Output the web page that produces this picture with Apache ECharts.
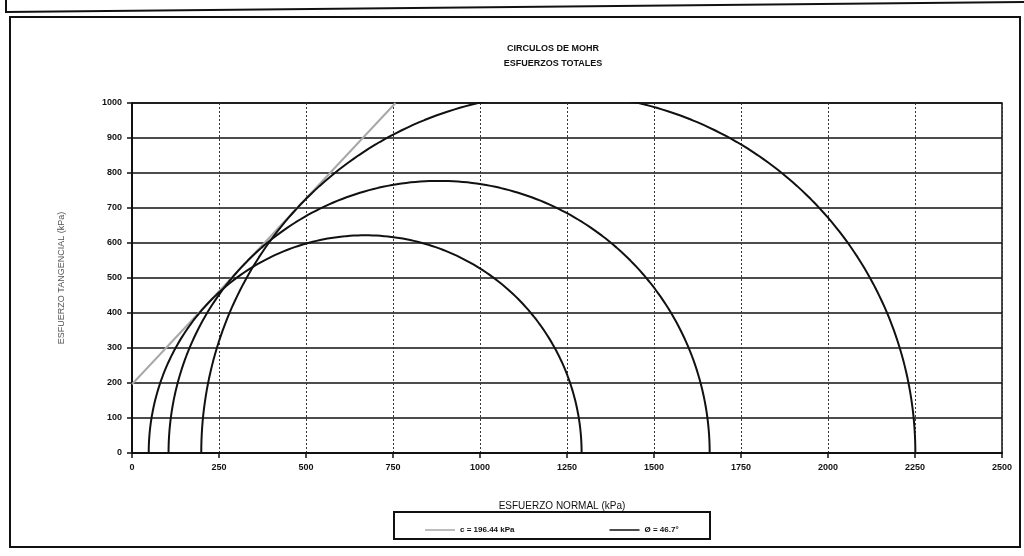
<!DOCTYPE html>
<html>
<head>
<meta charset="utf-8">
<script src="https://cdn.jsdelivr.net/npm/echarts@6/dist/echarts.min.js"></script>
<style>
  html, body { margin: 0; padding: 0; background: #fff; }
  #chart { width: 1024px; height: 556px; }
</style>
</head>
<body>
<div id="chart"></div>
<script>
// Mohr circles: minor and major principal stresses (kPa) of each test
const sigma3 = [48, 105, 199];
const sigma1 = [1292, 1660, 2251];

// Failure envelope parameters
const cohesion = 196.44;   // kPa
const phiDeg = 46.7;       // degrees

// Axis ticks
const xTicks = [0, 250, 500, 750, 1000, 1250, 1500, 1750, 2000, 2250, 2500];
const yTicks = [0, 100, 200, 300, 400, 500, 600, 700, 800, 900, 1000];

const envName = 'c = ' + cohesion + ' kPa';
const circName = '\u00D8 = ' + phiDeg + '\u00B0';

// Upper half of a Mohr circle from its principal stresses
function mohrCircle(s3, s1) {
  const c = (s1 + s3) / 2, r = (s1 - s3) / 2;
  const pts = [];
  const n = 180;
  for (let i = 0; i <= n; i++) {
    const t = Math.PI * i / n;
    pts.push([c + r * Math.cos(t), r * Math.sin(t)]);
  }
  return pts;
}

// Envelope tau = c + sigma * tan(phi), drawn until it leaves the plot
const tanPhi = Math.tan(phiDeg * Math.PI / 180);
const envX = (yTicks[yTicks.length - 1] - cohesion) / tanPhi;
const envelope = [[0, cohesion], [envX, cohesion + envX * tanPhi]];

const font = 'Liberation Sans, Arial, sans-serif';

const series = [{
  name: envName,
  type: 'line',
  data: envelope,
  showSymbol: false,
  lineStyle: { color: '#a8a8a8', width: 2 },
  itemStyle: { color: '#a8a8a8' },
  z: 3
}];
sigma3.forEach((s3, i) => {
  series.push({
    name: circName,
    type: 'line',
    data: mohrCircle(s3, sigma1[i]),
    showSymbol: false,
    smooth: false,
    lineStyle: { color: '#111', width: 2 },
    itemStyle: { color: '#111' },
    z: 4
  });
});

const plain = v => String(v);

const chart = echarts.init(document.getElementById('chart'));
chart.setOption({
  animation: false,
  backgroundColor: '#fff',
  title: {
    text: 'CIRCULOS DE MOHR\nESFUERZOS TOTALES',
    left: 548,
    top: 36,
    textAlign: 'center',
    textStyle: { fontFamily: font, fontSize: 9, fontWeight: 'bold', color: '#111', lineHeight: 15 }
  },
  grid: {
    left: 132, right: 22, top: 103, bottom: 103,
    show: true, borderColor: '#111', borderWidth: 1.5, backgroundColor: 'transparent'
  },
  legend: {
    data: [envName, circName],
    left: 420, top: 521,
    itemGap: 95,
    icon: 'rect',
    itemWidth: 30, itemHeight: 1.5,
    textStyle: { fontFamily: font, fontSize: 8, color: '#111', fontWeight: 'bold' }
  },
  xAxis: {
    type: 'value',
    min: xTicks[0], max: xTicks[xTicks.length - 1], interval: 250,
    name: 'ESFUERZO NORMAL (kPa)',
    nameLocation: 'middle', nameGap: 48,
    nameTextStyle: { fontFamily: font, fontSize: 10, color: '#111', padding: [0, 0, 0, -10] },
    axisLine: { show: true, lineStyle: { color: '#111', width: 2 } },
    axisTick: { show: true, length: 5, lineStyle: { color: '#111', width: 1.5 } },
    axisLabel: { fontFamily: font, fontSize: 9, color: '#111', margin: 10, fontWeight: 'bold', formatter: plain },
    splitLine: { show: true, lineStyle: { color: '#333', width: 1, type: [2, 2] } }
  },
  yAxis: {
    type: 'value',
    min: yTicks[0], max: yTicks[yTicks.length - 1], interval: 100,
    name: 'ESFUERZO TANGENCIAL (kPa)',
    nameLocation: 'middle', nameGap: 66,
    nameTextStyle: { fontFamily: font, fontSize: 9, color: '#555' },
    axisLine: { show: true, lineStyle: { color: '#111', width: 2 } },
    axisTick: { show: true, length: 5, lineStyle: { color: '#111', width: 1.5 } },
    axisLabel: { fontFamily: font, fontSize: 9, color: '#111', margin: 10, fontWeight: 'bold', formatter: plain },
    splitLine: { show: true, lineStyle: { color: '#111', width: 1.5 } }
  },
  graphic: [
    {
      type: 'rect',
      shape: { x: 10, y: 17, width: 1010, height: 530 },
      style: { fill: 'none', stroke: '#111', lineWidth: 2 },
      silent: true
    },
    {
      type: 'polyline',
      shape: { points: [[6, 0], [6, 12], [1024, 2]] },
      style: { fill: 'none', stroke: '#111', lineWidth: 2 },
      silent: true
    },
    {
      type: 'rect',
      shape: { x: 394, y: 512, width: 316, height: 27 },
      style: { fill: 'none', stroke: '#111', lineWidth: 2 },
      silent: true
    }
  ],
  series: series
});
</script>
</body>
</html>
